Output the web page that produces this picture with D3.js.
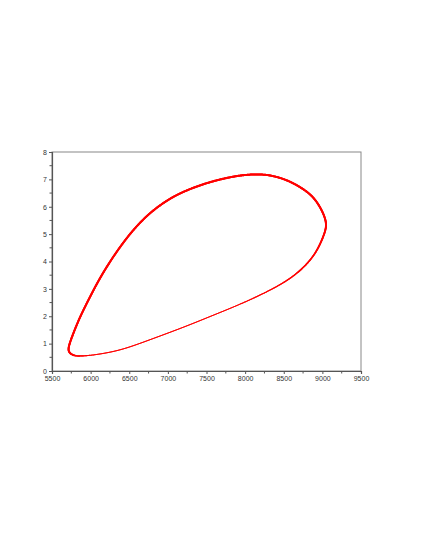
<!DOCTYPE html>
<html>
<head>
<meta charset="utf-8">
<script src="https://cdn.jsdelivr.net/npm/d3@7"></script>
<style>
  body { margin: 0; background: #fff; }
  text { font-family: "Liberation Sans", Arial, sans-serif; font-size: 7px; fill: #333; }
</style>
</head>
<body>
<section></section>
<script>
// data (closed loop, starting at the bottom-left tip, going right along the bottom)
var curveX = [5705, 5776, 5862, 6035, 6251, 6467, 6795, 7226, 7571, 7934, 8322, 8568, 8736, 8866, 8956, 9030, 9062, 8995, 8905, 8797, 8555, 8322, 8167, 7934, 7588, 7286, 7028, 6782, 6600, 6458, 6294, 6121, 5992, 5862, 5776, 5720];
var curveY = [0.70, 0.56, 0.54, 0.58, 0.68, 0.83, 1.17, 1.62, 2.02, 2.43, 2.94, 3.34, 3.72, 4.12, 4.53, 5.03, 5.39, 5.88, 6.28, 6.58, 6.98, 7.16, 7.19, 7.16, 6.95, 6.66, 6.32, 5.82, 5.31, 4.83, 4.19, 3.41, 2.71, 1.98, 1.38, 0.95];
var xTicks = [5500, 6000, 6500, 7000, 7500, 8000, 8500, 9000, 9500];
var yTicks = [0, 1, 2, 3, 4, 5, 6, 7, 8];

// set the dimensions and margins
var margin = {top: 152, right: 60, bottom: 174, left: 52},
  width = 421 - margin.left - margin.right,
  height = 545 - margin.top - margin.bottom;

var svg = d3.select("section").append("svg")
      .attr("width", 421)
      .attr("height", 545),
    g = svg.append("g")
      .attr("transform", "translate(" + margin.left + "," + margin.top + ")");

var x = d3.scaleLinear().domain([5500, 9500]).range([0, width]);
var y = d3.scaleLinear().domain([0, 8]).range([height, 0]);

// frame (top and right sides lighter)
g.append("rect")
  .attr("width", width).attr("height", height)
  .attr("fill", "none").attr("stroke", "#888").attr("stroke-width", 1);

// minor ticks
var xMinor = d3.range(5750, 9500, 500);
var yMinor = d3.range(0.5, 8, 1);

var xAxis = g.append("g").attr("transform", "translate(0," + height + ")")
  .call(d3.axisBottom(x).tickValues(xTicks).tickFormat(d3.format("d")).tickSize(3).tickPadding(2));
xAxis.selectAll(".minor").data(xMinor).enter().append("line")
  .attr("class", "minor")
  .attr("x1", function(d) { return x(d); }).attr("x2", function(d) { return x(d); })
  .attr("y1", 0).attr("y2", 2.5);

var yAxis = g.append("g")
  .call(d3.axisLeft(y).tickValues(yTicks).tickFormat(d3.format("d")).tickSize(3).tickPadding(2));
yAxis.selectAll(".minor").data(yMinor).enter().append("line")
  .attr("class", "minor")
  .attr("y1", function(d) { return y(d); }).attr("y2", function(d) { return y(d); })
  .attr("x1", 0).attr("x2", -2.5);

[xAxis, yAxis].forEach(function(a) {
  a.select(".domain").attr("stroke", "#555").attr("stroke-width", 1.2);
  a.selectAll("line").attr("stroke", "#555");
  a.selectAll("text").attr("font-size", 7).attr("font-family", "Liberation Sans, Arial, sans-serif").attr("fill", "#333");
});

// the loop: one smooth closed path, then redrawn in short pieces so the pen width can vary
var pts = curveX.map(function(d, i) { return [x(d), y(curveY[i])]; });
var line = d3.line().curve(d3.curveBasisClosed);

var guide = g.append("path").attr("d", line(pts)).attr("fill", "none").attr("stroke", "none").node();
var total = guide.getTotalLength();
var N = 900;
var samples = d3.range(N + 1).map(function(k) {
  var p = guide.getPointAtLength(total * k / N);
  return [p.x, p.y];
});

// where each data point falls along the path (nearest sample)
var pos = pts.map(function(p, i) {
  var best = 0, bd = Infinity;
  samples.forEach(function(s, k) {
    var dd = (s[0] - p[0]) * (s[0] - p[0]) + (s[1] - p[1]) * (s[1] - p[1]);
    if (dd < bd) { bd = dd; best = k; }
  });
  return best;
});
// keep positions increasing round the loop
var shift = pos[0];
pos = pos.map(function(d) { return (d - shift + N) % N; });
pos[0] = 0;
pos.push(N);
for (var i = 1; i < pos.length; i++) if (pos[i] <= pos[i - 1]) pos[i] = pos[i - 1] + 1;

// pen width: thin along the bottom, thick on the left and the top
function penAt(i) {
  if (i <= 0) return 2;
  if (i === 1) return 1.7;
  if (i === 2) return 1.3;
  if (i <= 9) return 1;
  if (i <= 16) return 1 + (i - 9) / 7;
  return 2;
}
var widthScale = d3.scaleLinear().domain(pos).range(pos.map(function(d, i) { return penAt(i % pts.length); }));

g.append("g").selectAll("line")
  .data(d3.range(N))
  .enter().append("line")
  .attr("x1", function(k) { return samples[(k + shift) % N][0]; })
  .attr("y1", function(k) { return samples[(k + shift) % N][1]; })
  .attr("x2", function(k) { return samples[(k + 1 + shift) % N][0]; })
  .attr("y2", function(k) { return samples[(k + 1 + shift) % N][1]; })
  .attr("stroke", "#f00")
  .attr("stroke-linecap", "round")
  .attr("stroke-width", function(k) { return widthScale(k + 0.5); });
</script>
</body>
</html>
